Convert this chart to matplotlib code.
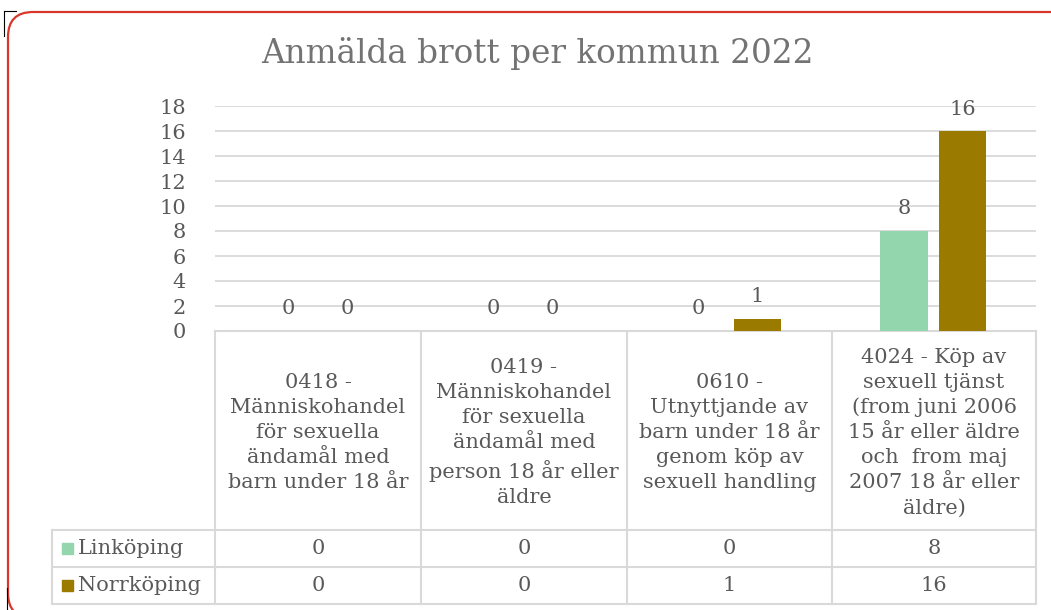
import matplotlib.pyplot as plt
import numpy as np
from matplotlib.patches import FancyBboxPatch, Rectangle

categories = [
    "0418 -\nMänniskohandel\nför sexuella\nändamål med\nbarn under 18 år",
    "0419 -\nMänniskohandel\nför sexuella\nändamål med\nperson 18 år eller\näldre",
    "0610 -\nUtnyttjande av\nbarn under 18 år\ngenom köp av\nsexuell handling",
    "4024 - Köp av\nsexuell tjänst\n(from juni 2006\n15 år eller äldre\noch  from maj\n2007 18 år eller\näldre)",
]
series_names = ["Linköping", "Norrköping"]
linkoping = [0, 0, 0, 8]
norrkoping = [0, 0, 1, 16]
yticks = list(range(0, 20, 2))

colors = ["#93D6AE", "#9A7B00"]
txt = "#595959"
grid = "#D9D9D9"
font = "DejaVu Serif"
fs = 15

W, H = 1051, 610
fig = plt.figure(figsize=(W / 100, H / 100), dpi=100)

def fx(px):
    return px / W

def fy(py):
    return 1 - py / H

# frame, drawn in pixel coordinates (y up)
bg = fig.add_axes([0, 0, 1, 1], zorder=-2)
bg.set_xlim(0, W)
bg.set_ylim(0, H)
bg.axis("off")
frame = FancyBboxPatch((8, H - 618), 1072, 606, boxstyle="round,pad=0,rounding_size=25",
                       fill=False, edgecolor="#D9372B", linewidth=1.6, clip_on=False)
bg.add_patch(frame)
bg.plot([4, 16], [H - 11, H - 11], color="black", lw=0.8)
bg.plot([4, 4], [H - 11, H - 36], color="black", lw=0.8)
bg.plot([7, 7], [H - 588, 0], color="black", lw=0.8)

fig.text(fx(537), fy(53), "Anmälda brott per kommun 2022", ha="center", va="center",
         fontsize=23.5, color="#737373", family=font)

# chart
x0, x1, ytop, ybot = 215, 1036, 106, 331
ax = fig.add_axes([fx(x0), fy(ybot), fx(x1) - fx(x0), fy(ytop) - fy(ybot)])
x = np.arange(len(categories))
bw = 0.23
off = 0.143
b1 = ax.bar(x - off, linkoping, bw, color=colors[0])
b2 = ax.bar(x + off, norrkoping, bw, color=colors[1])
for bars, vals in [(b1, linkoping), (b2, norrkoping)]:
    for b, v in zip(bars, vals):
        ax.annotate(str(v), (b.get_x() + b.get_width() / 2, v), xytext=(0, 9),
                    textcoords="offset points", ha="center", va="bottom",
                    fontsize=fs, color=txt, family=font)
ax.set_xlim(-0.5, len(categories) - 0.5)
ax.set_ylim(0, 18)
ax.set_yticks(yticks)
ax.set_yticklabels([str(t) for t in yticks], family=font, fontsize=fs, color=txt)
ax.tick_params(axis="y", length=0, pad=21)
ax.set_xticks([])
ax.grid(axis="y", color=grid, linewidth=1.3)
ax.set_axisbelow(True)
for s in ax.spines.values():
    s.set_visible(False)
ax.patch.set_alpha(0)

# data table, pixel coordinates (y down)
tab = fig.add_axes([0, 0, 1, 1], zorder=-1)
tab.set_xlim(0, W)
tab.set_ylim(H, 0)
tab.axis("off")
cols = [215, 421, 627, 832, 1036]
rows = [331, 530, 567, 604]
lw = 1.5
for c in cols:
    tab.plot([c, c], [rows[0], rows[-1]], color=grid, lw=lw)
tab.plot([52, 52], [rows[1], rows[-1]], color=grid, lw=lw)
tab.plot([cols[0], cols[-1]], [rows[0], rows[0]], color=grid, lw=lw)
for r in rows[1:]:
    tab.plot([52, cols[-1]], [r, r], color=grid, lw=lw)

for i, cat in enumerate(categories):
    cx = (cols[i] + cols[i + 1]) / 2
    tab.text(cx, (rows[0] + rows[1]) / 2 + 2, cat, ha="center", va="center",
             fontsize=fs, color=txt, family=font, linespacing=1.4)

for j, (name, vals) in enumerate(zip(series_names, [linkoping, norrkoping])):
    cy = (rows[j + 1] + rows[j + 2]) / 2
    tab.add_patch(Rectangle((62, cy - 6), 11, 11, color=colors[j]))
    tab.text(78, cy, name, ha="left", va="center", fontsize=fs, color=txt, family=font)
    for i, v in enumerate(vals):
        cx = (cols[i] + cols[i + 1]) / 2
        tab.text(cx, cy, str(v), ha="center", va="center", fontsize=fs,
                 color=txt, family=font)

fig.savefig("out.png", dpi=100)
